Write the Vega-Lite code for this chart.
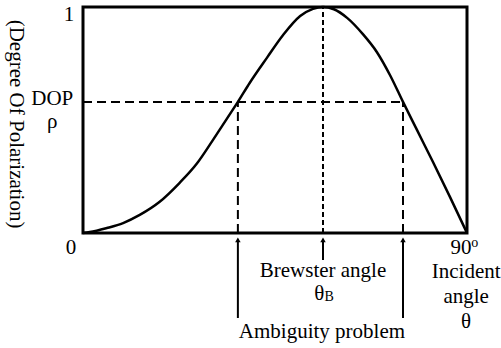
{
  "$schema": "https://vega.github.io/schema/vega-lite/v6.json",
  "width": 384,
  "height": 226,
  "autosize": {"type": "none"},
  "padding": {"left": 83, "top": 7, "right": 34, "bottom": 115},
  "background": "white",
  "config": {
    "view": {"stroke": "black", "strokeWidth": 3}
  },
  "datasets": {
    "curve": [
      {"x": 0, "y": 0}, {"x": 1.6, "y": 0.004}, {"x": 5.6, "y": 0.022}, {"x": 9.4, "y": 0.044},
      {"x": 13.3, "y": 0.08}, {"x": 17.9, "y": 0.137}, {"x": 22.6, "y": 0.221},
      {"x": 26.6, "y": 0.305}, {"x": 30.4, "y": 0.41}, {"x": 33.7, "y": 0.505},
      {"x": 36.3, "y": 0.58}, {"x": 39.1, "y": 0.665}, {"x": 43.1, "y": 0.775},
      {"x": 46.9, "y": 0.876}, {"x": 50.9, "y": 0.96}, {"x": 53.9, "y": 0.992},
      {"x": 56.25, "y": 1.0}, {"x": 58.8, "y": 0.99}, {"x": 61.9, "y": 0.952},
      {"x": 65.6, "y": 0.88}, {"x": 68.9, "y": 0.8}, {"x": 72.0, "y": 0.697},
      {"x": 75.0, "y": 0.58}, {"x": 78.3, "y": 0.455}, {"x": 82.0, "y": 0.315},
      {"x": 86.0, "y": 0.16}, {"x": 90, "y": 0}
    ]
  },
  "layer": [
    {
      "data": {"name": "curve"},
      "mark": {"type": "line", "color": "black", "strokeWidth": 2.5, "interpolate": "monotone"},
      "encoding": {
        "x": {"field": "x", "type": "quantitative", "scale": {"domain": [0, 90], "nice": false, "zero": false}, "axis": null},
        "y": {"field": "y", "type": "quantitative", "scale": {"domain": [0, 1], "nice": false}, "axis": null}
      }
    },
    {
      "data": {"values": [{"x": 0, "x2": 75.0, "y": 0.58}]},
      "mark": {"type": "rule", "color": "black", "strokeWidth": 2, "strokeDash": [9, 5]},
      "encoding": {
        "x": {"field": "x", "type": "quantitative"},
        "x2": {"field": "x2"},
        "y": {"field": "y", "type": "quantitative"}
      }
    },
    {
      "data": {"values": [{"x": 36.3, "y": 0, "y2": 0.58}, {"x": 75.0, "y": 0, "y2": 0.58}]},
      "mark": {"type": "rule", "color": "black", "strokeWidth": 2, "strokeDash": [9, 5]},
      "encoding": {
        "x": {"field": "x", "type": "quantitative"},
        "y": {"field": "y", "type": "quantitative"},
        "y2": {"field": "y2"}
      }
    },
    {
      "data": {"values": [{"x": 56.25, "y": 0, "y2": 1}]},
      "mark": {"type": "rule", "color": "black", "strokeWidth": 2, "strokeDash": [5, 3]},
      "encoding": {
        "x": {"field": "x", "type": "quantitative"},
        "y": {"field": "y", "type": "quantitative"},
        "y2": {"field": "y2"}
      }
    },
    {
      "data": {"values": [
        {"x": 36.3, "y": -0.03, "y2": -0.376},
        {"x": 56.25, "y": -0.03, "y2": -0.12},
        {"x": 75.0, "y": -0.03, "y2": -0.376}
      ]},
      "mark": {"type": "rule", "color": "black", "strokeWidth": 2},
      "encoding": {
        "x": {"field": "x", "type": "quantitative"},
        "y": {"field": "y", "type": "quantitative"},
        "y2": {"field": "y2"}
      }
    },
    {
      "data": {"values": [{"x": 36.3, "y": -0.03}, {"x": 56.25, "y": -0.03}, {"x": 75.0, "y": -0.03}]},
      "mark": {"type": "point", "shape": "triangle-up", "filled": true, "color": "black", "opacity": 1, "size": 30},
      "encoding": {
        "x": {"field": "x", "type": "quantitative"},
        "y": {"field": "y", "type": "quantitative"}
      }
    },
    {
      "data": {"values": [
        {"x": -3.3, "y": 0.965, "t": "1"},
        {"x": -2.8, "y": -0.066, "t": "0"},
        {"x": -7.2, "y": 0.592, "t": "DOP"},
        {"x": -7.2, "y": 0.492, "t": "ρ"},
        {"x": 56.25, "y": -0.17, "t": "Brewster angle"},
        {"x": 55.4, "y": -0.268, "t": "θ"},
        {"x": 56, "y": -0.44, "t": "Ambiguity problem"},
        {"x": 88.6, "y": -0.066, "t": "90"},
        {"x": 89.8, "y": -0.173, "t": "Incident"},
        {"x": 89.8, "y": -0.283, "t": "angle"},
        {"x": 89.8, "y": -0.394, "t": "θ"}
      ]},
      "mark": {"type": "text", "align": "center", "baseline": "middle", "font": "Liberation Serif, Times New Roman, Times, serif", "fontSize": 21, "color": "black"},
      "encoding": {
        "x": {"field": "x", "type": "quantitative"},
        "y": {"field": "y", "type": "quantitative"},
        "text": {"field": "t"}
      }
    },
    {
      "data": {"values": [
        {"x": 57.7, "y": -0.283, "t": "B"},
        {"x": 91.8, "y": -0.045, "t": "o"}
      ]},
      "mark": {"type": "text", "align": "center", "baseline": "middle", "font": "Liberation Serif, Times New Roman, Times, serif", "fontSize": 14, "color": "black"},
      "encoding": {
        "x": {"field": "x", "type": "quantitative"},
        "y": {"field": "y", "type": "quantitative"},
        "text": {"field": "t"}
      }
    },
    {
      "data": {"values": [{"x": -15.6, "y": 0.482, "t": "(Degree Of Polarization)"}]},
      "mark": {"type": "text", "align": "center", "baseline": "middle", "angle": 90, "font": "Liberation Serif, Times New Roman, Times, serif", "fontSize": 21, "color": "black"},
      "encoding": {
        "x": {"field": "x", "type": "quantitative"},
        "y": {"field": "y", "type": "quantitative"},
        "text": {"field": "t"}
      }
    }
  ]
}
